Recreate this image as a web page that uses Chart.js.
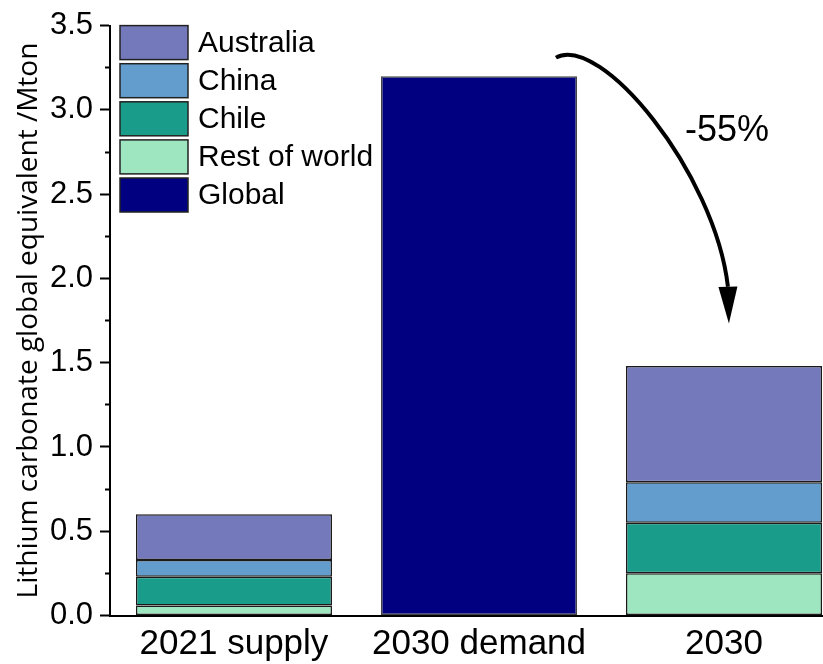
<!DOCTYPE html>
<html>
<head>
<meta charset="utf-8">
<script src="https://cdn.jsdelivr.net/npm/chart.js@4/dist/chart.umd.min.js"></script>
<style>
  html, body { margin: 0; padding: 0; background: #fff; overflow: hidden; }
  canvas { display: block; }
</style>
</head>
<body>
<canvas id="lceChart" width="823" height="664"></canvas>
<script>
/* ---------- data (Mton LCE) ---------- */
const categories = ['2021 supply', '2030 demand', '2030'];

const australia   = [0.27, null, 0.69];
const china       = [0.10, null, 0.24];
const chile       = [0.17, null, 0.30];
const restOfWorld = [0.06, null, 0.25];
const globalTotal = [null, 3.2, null];

const reductionLabel = '-55%';

/* ---------- colours ---------- */
const colAustralia = '#7479bb';
const colChina     = '#629dce';
const colChile     = '#1a9c8a';
const colRest      = '#9de6c0';
const colGlobal    = '#000080';

// curved arrow, in data units (x = category index, y = Mton)
const arrowPath = {
    start: [1.314, 3.31],
    c1:    [1.494, 3.456],
    c2:    [1.963, 2.63],
    end:   [2.016, 1.95],
    tip:   [2.020, 1.733],
    text:  [2.012, 2.872]
};

// stacking goes bottom -> top, legend lists top -> bottom
const legendOrder = [3, 2, 1, 0, 4];

const overlayPlugin = {
    id: 'overlay',
    afterDraw(chart) {
        const { ctx, chartArea, scales: { x, y } } = chart;
        const px = p => [x.getPixelForValue(p[0]), y.getPixelForValue(p[1])];

        ctx.save();

        // legend boxes
        ctx.font = '30px "Liberation Sans", Arial, sans-serif';
        ctx.textBaseline = 'middle';
        ctx.textAlign = 'left';
        const lx = chartArea.left + 10;
        legendOrder.forEach((di, k) => {
            const ds = chart.data.datasets[di];
            const by = chartArea.top + k * 38.1;
            ctx.fillStyle = ds.backgroundColor;
            ctx.fillRect(lx, by, 68, 34);
            ctx.strokeStyle = '#222';
            ctx.lineWidth = 1.5;
            ctx.strokeRect(lx, by, 68, 34);
            ctx.fillStyle = '#000';
            ctx.fillText(ds.label, lx + 78, by + 18);
        });

        // curved arrow
        const [sx, sy] = px(arrowPath.start);
        const [ax, ay] = px(arrowPath.c1);
        const [bx, by2] = px(arrowPath.c2);
        const [ex, ey] = px(arrowPath.end);
        const [tx, ty] = px(arrowPath.tip);
        ctx.strokeStyle = '#000';
        ctx.lineWidth = 4;
        ctx.lineCap = 'butt';
        ctx.beginPath();
        ctx.moveTo(sx, sy);
        ctx.bezierCurveTo(ax, ay, bx, by2, ex, ey);
        ctx.stroke();

        const dx = tx - ex, dy = ty - ey;
        const len = Math.hypot(dx, dy);
        const nx = -dy / len * 9.5, ny = dx / len * 9.5;
        ctx.fillStyle = '#000';
        ctx.beginPath();
        ctx.moveTo(ex + nx, ey + ny);
        ctx.lineTo(tx, ty);
        ctx.lineTo(ex - nx, ey - ny);
        ctx.closePath();
        ctx.fill();

        // percentage label
        const [lxT, lyT] = px(arrowPath.text);
        ctx.font = '36px "Liberation Sans", Arial, sans-serif';
        ctx.textAlign = 'center';
        ctx.fillText(reductionLabel, lxT, lyT);

        ctx.restore();
    }
};

function barSet(label, data, color, border) {
    return {
        label,
        data,
        backgroundColor: color,
        borderColor: border || '#1a1a1a',
        borderWidth: 1.5,
        borderSkipped: false
    };
}

const ctx = document.getElementById('lceChart').getContext('2d');

new Chart(ctx, {
    type: 'bar',
    data: {
        labels: categories.map((_, i) => i),
        datasets: [
            barSet('Rest of world', restOfWorld, colRest),
            barSet('Chile', chile, colChile),
            barSet('China', china, colChina),
            barSet('Australia', australia, colAustralia),
            barSet('Global', globalTotal, colGlobal, '#444')
        ]
    },
    options: {
        responsive: false,
        animation: false,
        events: [],
        barPercentage: 0.8,
        categoryPercentage: 1,
        layout: { padding: { top: 23, right: 0, bottom: 0, left: 0 } },
        plugins: {
            legend: { display: false },
            tooltip: { enabled: false }
        },
        scales: {
            x: {
                type: 'linear',
                stacked: true,
                offset: false,
                min: -0.506,
                max: 2.404,
                afterBuildTicks: scale => {
                    scale.ticks = categories.map((_, i) => ({ value: i }));
                },
                afterFit: scale => { scale.height = 48.5; },
                grid: { display: false, drawTicks: false },
                border: { display: true, color: '#000', width: 2 },
                ticks: {
                    padding: 8,
                    color: '#000',
                    maxRotation: 0,
                    autoSkip: false,
                    font: { family: '"Liberation Sans", Arial, sans-serif', size: 35 },
                    callback: v => categories[v] ?? ''
                }
            },
            y: {
                stacked: true,
                min: 0,
                max: 3.5,
                afterFit: scale => { scale.width = 110; },
                grid: {
                    display: true,
                    drawOnChartArea: false,
                    drawTicks: true,
                    tickLength: 10,
                    tickWidth: 2,
                    tickColor: '#000',
                    // minor ticks: only the inner half of the tick mark
                    tickBorderDash: c => (c.tick && Math.abs(c.tick.value % 0.5) > 1e-9) ? [0, 5, 5] : []
                },
                border: { display: true, color: '#000', width: 2 },
                ticks: {
                    stepSize: 0.25,
                    padding: 7,
                    color: '#000',
                    font: { family: '"Liberation Sans", Arial, sans-serif', size: 31 },
                    callback: v => Math.abs(v % 0.5) < 1e-9 ? v.toFixed(1) : ''
                },
                title: {
                    display: true,
                    text: 'Lithium carbonate global equivalent /Mton',
                    color: '#000',
                    padding: { top: 12, bottom: 0 },
                    font: { family: '"Open Sans", sans-serif', size: 28 }
                }
            }
        }
    },
    plugins: [overlayPlugin]
});
</script>
</body>
</html>
